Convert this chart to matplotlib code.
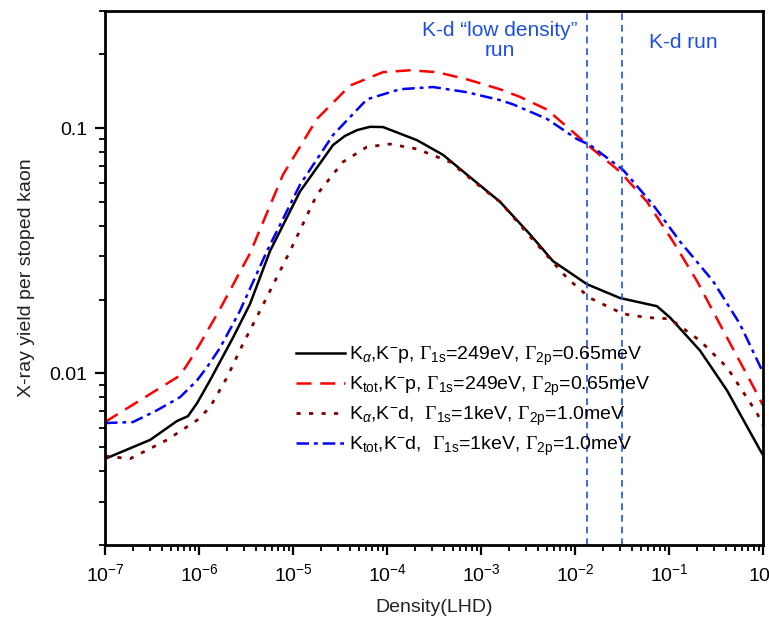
import numpy as np
import matplotlib
matplotlib.use('Agg')
import matplotlib.pyplot as plt
from matplotlib.ticker import LogLocator, NullFormatter

plt.rcParams['font.family'] = ['Liberation Sans', 'DejaVu Sans']
plt.rcParams['mathtext.fontset'] = 'custom'
plt.rcParams['mathtext.rm'] = 'Liberation Sans'
plt.rcParams['mathtext.it'] = 'Liberation Sans:italic'
plt.rcParams['mathtext.sf'] = 'Liberation Serif'

# data (log10 of density, yield)
x_ka_p = [-7.0, -6.52, -6.234, -6.117, -6.021, -5.883, -5.638, -5.457, -5.245, -4.926, -4.574,
          -4.447, -4.319, -4.180, -4.043, -3.681, -3.404, -3.149, -2.798, -2.479, -2.234, -1.872,
          -1.521, -1.128, -0.989, -0.670, -0.383, -0.032, 0.0]
y_ka_p = [0.00449, 0.00536, 0.0064, 0.0067, 0.00756, 0.00937, 0.0140, 0.0192, 0.0315, 0.0551, 0.0853,
          0.0929, 0.0981, 0.1012, 0.101, 0.0893, 0.0778, 0.0646, 0.0501, 0.0369, 0.0287, 0.0231,
          0.0203, 0.0188, 0.0169, 0.0124, 0.00853, 0.00488, 0.00466]

x_kt_p = [-7.0, -6.202, -6.096, -5.989, -5.777, -5.457, -5.106, -4.745, -4.394, -4.043, -3.755,
          -3.468, -3.149, -2.798, -2.585, -2.298, -2.021, -1.840, -1.521, -1.234, -0.957,
          -0.702, -0.383, -0.138, 0.0]
y_kt_p = [0.00634, 0.00981, 0.0113, 0.0132, 0.0183, 0.0309, 0.0646, 0.109, 0.149, 0.169, 0.172,
          0.169, 0.158, 0.144, 0.134, 0.119, 0.0964, 0.0838, 0.0664, 0.0501, 0.0345,
          0.0238, 0.0140, 0.00937, 0.00741]

x_ka_d = [-7.0, -6.734, -6.340, -6.021, -5.883, -5.702, -5.532, -5.351, -5.032, -4.745, -4.468,
          -4.213, -3.968, -3.681, -3.330, -2.979, -2.798, -2.479, -2.085, -1.840, -1.489,
          -1.234, -0.989, -0.670, -0.383, -0.064, 0.0]
y_ka_d = [0.00461, 0.00449, 0.00536, 0.00645, 0.00728, 0.00963, 0.0132, 0.0180, 0.0315, 0.0536, 0.0728,
          0.0838, 0.0861, 0.0822, 0.0728, 0.0566, 0.0501, 0.0362, 0.0245, 0.0203, 0.0175,
          0.0169, 0.0167, 0.0136, 0.0106, 0.00689, 0.00615]

x_kt_d = [-7.0, -6.702, -6.447, -6.202, -6.021, -5.915, -5.777, -5.564, -5.277, -4.926, -4.574,
          -4.213, -3.862, -3.511, -3.149, -2.798, -2.660, -2.298, -1.979, -1.840, -1.489,
          -1.170, -0.883, -0.532, -0.245, 0.0]
y_kt_d = [0.00628, 0.00634, 0.00708, 0.00800, 0.00937, 0.0106, 0.0127, 0.0180, 0.0315, 0.0587, 0.0937,
          0.131, 0.144, 0.147, 0.140, 0.130, 0.125, 0.109, 0.0902, 0.0853, 0.0676,
          0.0487, 0.0345, 0.0238, 0.0159, 0.0101]

run_bounds = [0.0135, 0.032]

lab_ka_p = r'K$_\alpha$,K$^{-}$p, $\mathsf{\Gamma}_{\mathrm{1s}}$=249eV, $\mathsf{\Gamma}_{\mathrm{2p}}$=0.65meV'
lab_kt_p = r'K$_\mathrm{tot}$,K$^{-}$p, $\mathsf{\Gamma}_{\mathrm{1s}}$=249eV, $\mathsf{\Gamma}_{\mathrm{2p}}$=0.65meV'
lab_ka_d = r'K$_\alpha$,K$^{-}$d,  $\mathsf{\Gamma}_{\mathrm{1s}}$=1keV, $\mathsf{\Gamma}_{\mathrm{2p}}$=1.0meV'
lab_kt_d = r'K$_\mathrm{tot}$,K$^{-}$d,  $\mathsf{\Gamma}_{\mathrm{1s}}$=1keV, $\mathsf{\Gamma}_{\mathrm{2p}}$=1.0meV'

fig = plt.figure(figsize=(7.69, 6.22), dpi=100)
ax = fig.add_axes([0.1365, 0.1238, 0.8557, 0.8585])

ax.plot(10 ** np.array(x_ka_p), y_ka_p, c='black', lw=1.8, label=lab_ka_p)
ax.plot(10 ** np.array(x_kt_p), y_kt_p, c='#ff0000', lw=1.8, ls=(0, (6, 3.5)), label=lab_kt_p)
ax.plot(10 ** np.array(x_ka_d), y_ka_d, c='#800000', lw=2, ls=(0, (1.5, 3)), label=lab_ka_d)
ax.plot(10 ** np.array(x_kt_d), y_kt_d, c='#0000ff', lw=1.8, ls=(0, (5, 2, 1.5, 2)), label=lab_kt_d)

for xv in run_bounds:
    ax.axvline(xv, c='#1f4fe0', lw=1.2, ls=(0, (4, 3)))

ax.text(0.0016, 0.227, 'K-d \u201clow density\u201d\nrun', color='#1f4fe0', fontsize=15,
        ha='center', va='center', linespacing=1.05)
ax.text(0.141, 0.223, 'K-d run', color='#1f4fe0', fontsize=15, ha='center', va='center')

ax.set_xscale('log')
ax.set_yscale('log')
ax.set_xlim(1e-7, 1)
ax.set_ylim(0.002, 0.3)

ax.xaxis.set_major_locator(LogLocator(base=10, numticks=10))
ax.xaxis.set_minor_locator(LogLocator(base=10, subs=np.arange(2, 10), numticks=20))
ax.xaxis.set_minor_formatter(NullFormatter())
ax.set_yticks([0.01, 0.1], ['0.01', '0.1'])
ax.yaxis.set_minor_locator(LogLocator(base=10, subs=np.arange(2, 10), numticks=20))
ax.yaxis.set_minor_formatter(NullFormatter())

ax.tick_params(which='major', direction='out', length=7, width=1.6, labelsize=14, pad=6)
ax.tick_params(which='minor', direction='out', length=4, width=1.3)
for s in ax.spines.values():
    s.set_linewidth(2)

ax.set_xlabel('Density(LHD)', fontsize=14, color='#222222', labelpad=10)
ax.set_ylabel('X-ray yield per stoped kaon', fontsize=14, color='#222222', labelpad=10)

ax.legend(loc='lower left', bbox_to_anchor=(0.27, 0.137), frameon=False, fontsize=14,
          handlelength=2.5, handletextpad=0.2, labelspacing=0.35, borderpad=0.2)

plt.savefig('out.png', dpi=100)
